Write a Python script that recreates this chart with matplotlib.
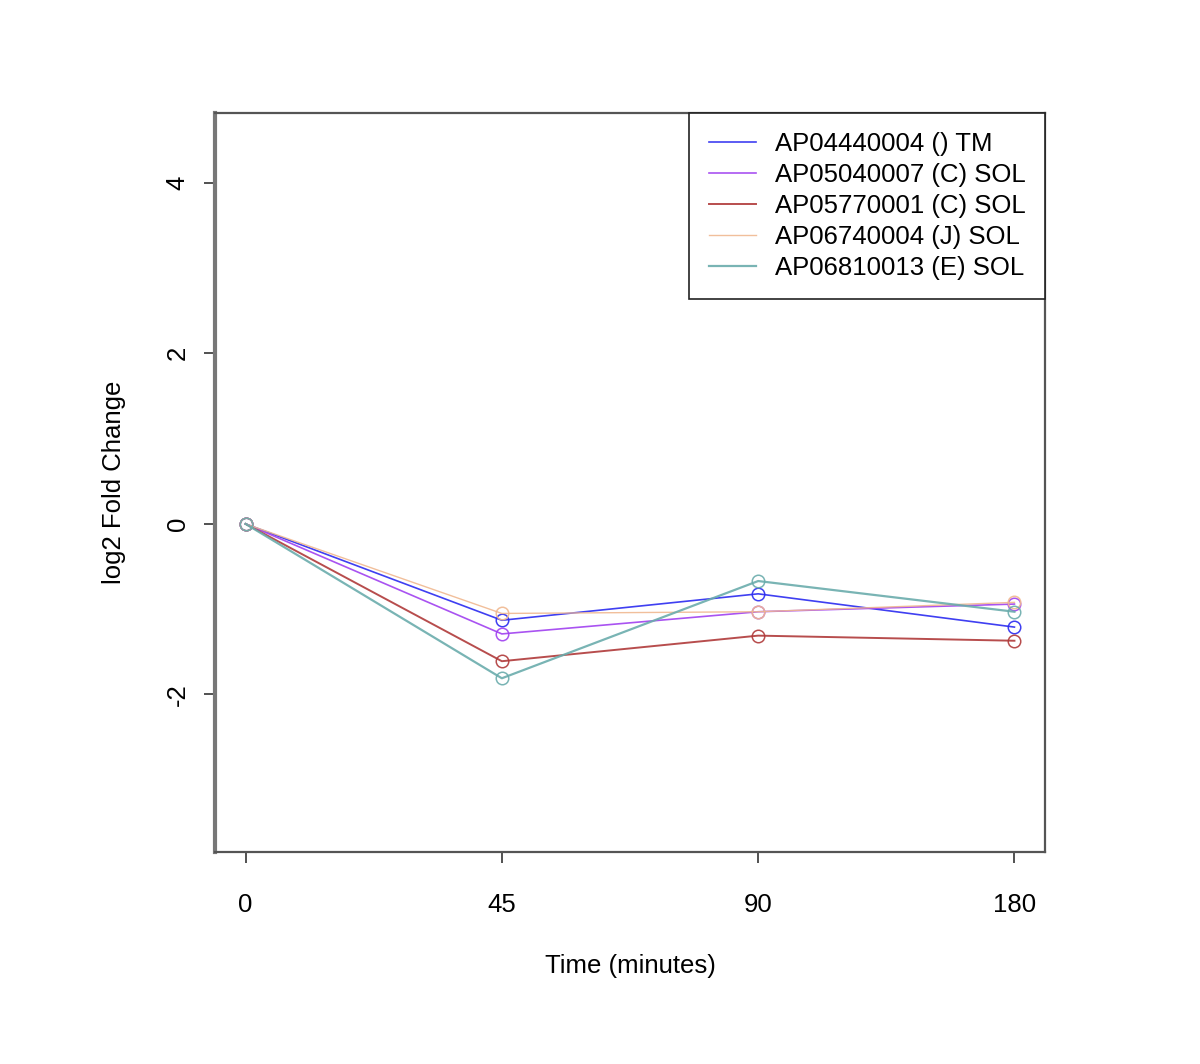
import matplotlib
matplotlib.use("Agg")
import matplotlib.pyplot as plt

plt.rcParams["font.family"] = ["Liberation Sans", "DejaVu Sans"]

# time points (plotted as equally spaced categories)
times = ["0", "45", "90", "180"]

labels = ["AP04440004 () TM", "AP05040007 (C) SOL", "AP05770001 (C) SOL",
          "AP06740004 (J) SOL", "AP06810013 (E) SOL"]
colors = ["#2a2af0", "#a040f0", "#b03a3a", "#f0b890", "#6aacac"]
widths = [1.2, 1.2, 1.4, 1.0, 1.6]

ap04440004 = [0, -1.13, -0.82, -1.21]
ap05040007 = [0, -1.29, -1.03, -0.94]
ap05770001 = [0, -1.61, -1.31, -1.37]
ap06740004 = [0, -1.05, -1.03, -0.92]
ap06810013 = [0, -1.81, -0.67, -1.03]
series = [ap04440004, ap05040007, ap05770001, ap06740004, ap06810013]

fig = plt.figure(figsize=(12, 10.64), dpi=100)
ax = fig.add_axes([0.179, 0.199, 0.692, 0.695])

xs = list(range(1, len(times) + 1))
for vals, lab, c, w in zip(series, labels, colors, widths):
    ax.plot(xs, vals, color=c, lw=w, marker="o", markersize=9,
            markerfacecolor="none", markeredgecolor=c, markeredgewidth=1.1,
            label=lab, alpha=0.9)

ax.set_xlim(0.88, 4.12)
ax.set_ylim(-3.85, 4.82)
ax.set_xticks(xs)
ax.set_xticklabels(times)
ax.set_yticks([-2, 0, 2, 4])
ax.set_yticklabels(["-2", "0", "2", "4"], rotation=90, va="center")
ax.tick_params(axis="both", length=8, width=1.2, labelsize=18.5, direction="out",
               colors="#333333", labelcolor="black")
ax.tick_params(axis="x", pad=21)
ax.tick_params(axis="y", pad=10)

for s in ax.spines.values():
    s.set_color("#555555")
    s.set_linewidth(1.6)
ax.spines["left"].set_linewidth(3)
ax.spines["left"].set_color("#777777")

ax.set_xlabel("Time (minutes)", fontsize=18.5, labelpad=27)
ax.set_ylabel("log2 Fold Change", fontsize=18.5, labelpad=29)

leg = ax.legend(loc="upper right", borderaxespad=0, fancybox=False,
                fontsize=18.5, handlelength=1.85, handletextpad=0.74,
                borderpad=0.75, labelspacing=0.27, framealpha=1)
leg.get_frame().set_edgecolor("#222222")
leg.get_frame().set_linewidth(1.2)
for h in leg.get_lines():
    h.set_marker("")

fig.savefig("out.png", dpi=100)
